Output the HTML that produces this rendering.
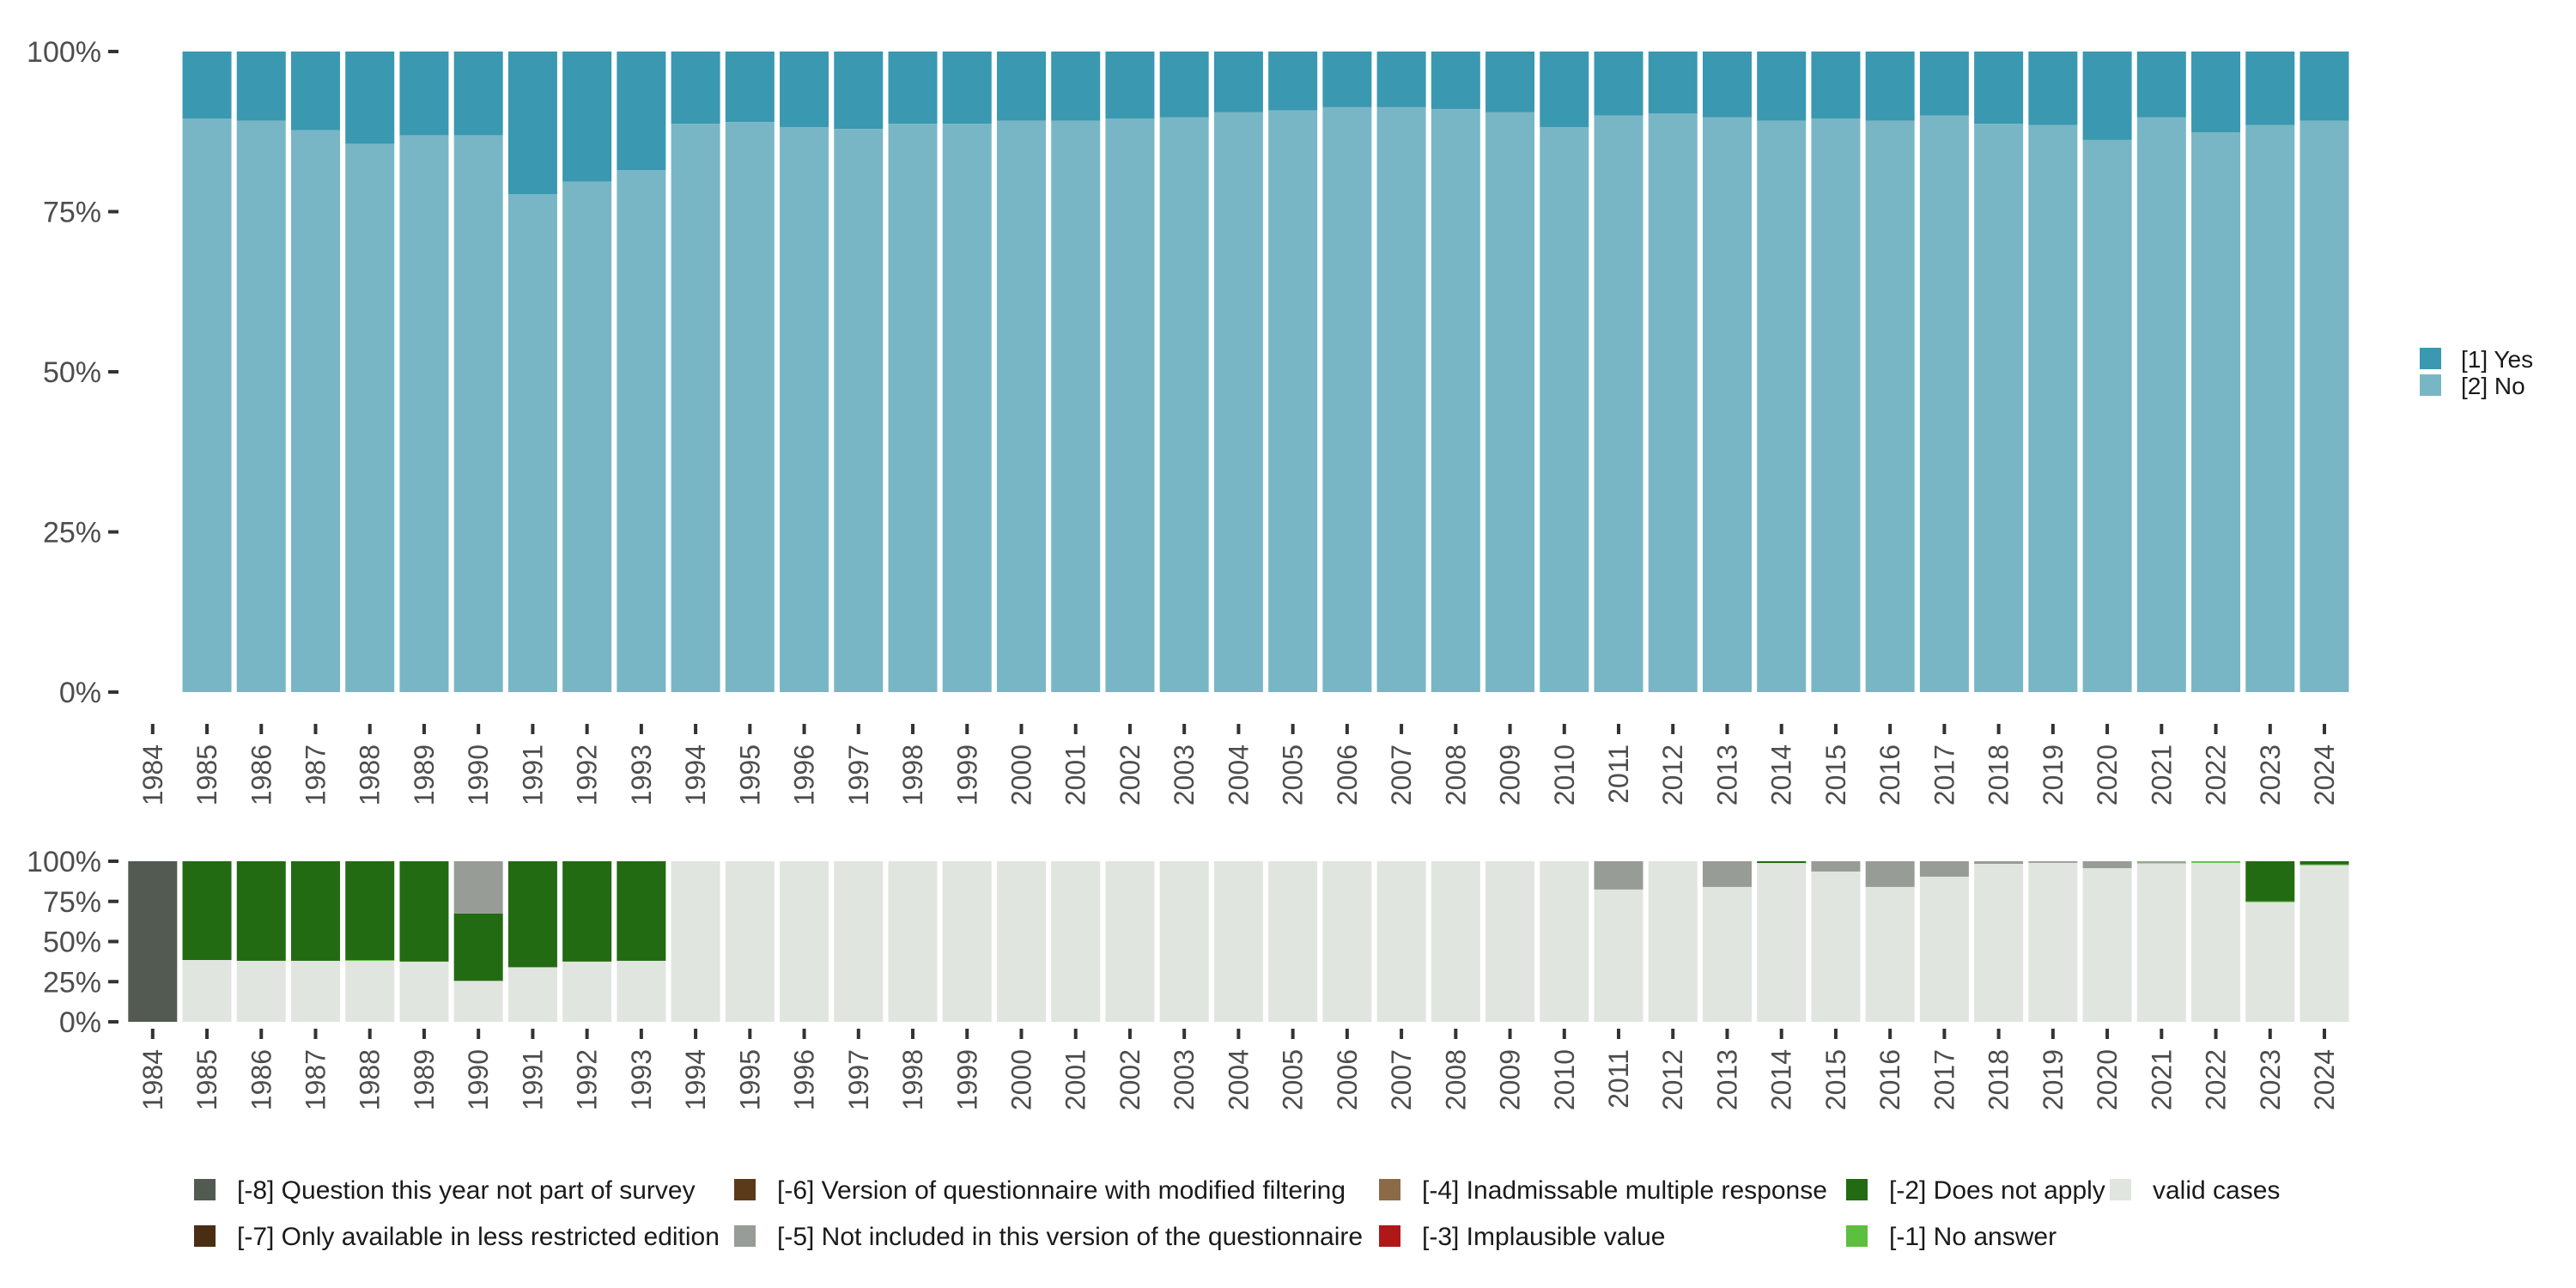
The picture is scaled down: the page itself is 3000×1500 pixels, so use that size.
<!DOCTYPE html>
<html><head><meta charset="utf-8"><style>
body{margin:0;background:#fff;}
svg{display:block;font-family:"Liberation Sans",sans-serif;}
</style></head><body>
<svg id="chart" width="3000" height="1500" viewBox="0 0 3000 1500" xmlns="http://www.w3.org/2000/svg">
<g id="topPanel"></g>
<g id="botPanel"></g>
<g id="legR"></g>
<g id="legB"></g>
</svg>
<script>
const years = [1984,1985,1986,1987,1988,1989,1990,1991,1992,1993,1994,1995,1996,1997,1998,1999,2000,2001,2002,2003,2004,2005,2006,2007,2008,2009,2010,2011,2012,2013,2014,2015,2016,2017,2018,2019,2020,2021,2022,2023,2024];
const topYears = years.slice(1);
const noShare = [0.895,0.892,0.877,0.856,0.869,0.869,0.777,0.797,0.815,0.887,0.89,0.882,0.879,0.887,0.887,0.892,0.892,0.895,0.897,0.905,0.908,0.913,0.913,0.91,0.905,0.882,0.90,0.903,0.897,0.892,0.895,0.892,0.90,0.887,0.885,0.862,0.897,0.874,0.885,0.892];
const validShare = [0,0.385,0.38,0.38,0.38,0.375,0.255,0.34,0.375,0.38,1,1,1,1,1,1,1,1,1,1,1,1,1,1,1,1,1,0.824,1,0.84,0.989,0.936,0.84,0.904,0.984,0.99,0.957,0.987,0.99,0.745,0.975];
const noAnswerShare = [0,0,0,0,0.005,0,0,0,0,0,0,0,0,0,0,0,0,0,0,0,0,0,0,0,0,0,0,0,0,0,0,0,0,0,0,0,0,0.003,0.01,0.005,0.005];
const notApplyShare = [0,0.615,0.62,0.62,0.615,0.625,0.42,0.66,0.625,0.62,0,0,0,0,0,0,0,0,0,0,0,0,0,0,0,0,0,0,0,0,0.011,0,0,0,0,0,0,0,0,0.25,0.02];
const notIncludedShare = [0,0,0,0,0,0,0.325,0,0,0,0,0,0,0,0,0,0,0,0,0,0,0,0,0,0,0,0,0.176,0,0.16,0,0.064,0.16,0.096,0.016,0.01,0.043,0.01,0,0,0];
const notSurveyShare = [1,0,0,0,0,0,0,0,0,0,0,0,0,0,0,0,0,0,0,0,0,0,0,0,0,0,0,0,0,0,0,0,0,0,0,0,0,0,0,0,0];
const yTicks = [0,0.25,0.5,0.75,1];
const yTickLabels = ["0%","25%","50%","75%","100%"];

const NS = "http://www.w3.org/2000/svg";
function mk(parent, tag, attrs){const e=document.createElementNS(NS,tag);for(const k in attrs)e.setAttribute(k,attrs[k]);parent.appendChild(e);return e;}
const xC = y => 177.8 + (y - 1984) * 63.23;
const BW = 57;
const yTop = v => 806 - v * 746;
const yBot = v => 1190 - v * 187;

function axes(g, yf, tickY0, labY, panel){
  yTicks.forEach((t,i)=>{
    const l=mk(g,"line",{x1:126,x2:138,y1:yf(t),y2:yf(t),stroke:"#333","stroke-width":4});
    
    
    const tx=mk(g,"text",{x:118,y:yf(t)+12,"text-anchor":"end","font-size":34,fill:"#4d4d4d"});
    tx.textContent=yTickLabels[i];
    
    
  });
  years.forEach(y=>{
    const l=mk(g,"line",{x1:xC(y),x2:xC(y),y1:tickY0,y2:tickY0+12,stroke:"#333","stroke-width":4});
    
    
    const tx=mk(g,"text",{x:0,y:0,"text-anchor":"end","font-size":32,fill:"#4d4d4d",transform:`translate(${xC(y)+11},${labY}) rotate(-90)`});
    tx.textContent=y;
    
    
  });
}

const topG=document.getElementById("topPanel");
topYears.forEach((y,i)=>{
  const no=noShare[i];
  const r1=mk(topG,"rect",{x:xC(y)-BW/2,y:yTop(1),width:BW,height:yTop(no)-yTop(1),fill:"#3a98b0"});
  
  
  const r2=mk(topG,"rect",{x:xC(y)-BW/2,y:yTop(no),width:BW,height:yTop(0)-yTop(no),fill:"#79b6c5"});
  
  
});
axes(topG,yTop,843,867,"top");

const botG=document.getElementById("botPanel");
const stacks=[[validShare,"#e0e5e0","valid"],[noAnswerShare,"#5cbf40","no-answer"],[notApplyShare,"#226b12","does-not-apply"],[notIncludedShare,"#989c96","not-included"],[notSurveyShare,"#525a52","not-part-of-survey"]];
years.forEach((y,i)=>{
  let cum=0;
  stacks.forEach(([arr,col,nm])=>{
    const v=arr[i]||0; if(v<=0)return;
    const hi=Math.min(1,cum+v);
    const r=mk(botG,"rect",{x:xC(y)-BW/2,y:yBot(hi),width:BW,height:yBot(cum)-yBot(hi),fill:col});
    
    
    cum+=v;
  });
});
axes(botG,yBot,1198,1222,"bottom");

const legR=document.getElementById("legR");
[["[1] Yes","#3a98b0"],["[2] No","#79b6c5"]].forEach(([t,c],i)=>{
  const r=mk(legR,"rect",{x:2818,y:405+i*31,width:25,height:25,fill:c});
  
  
  const tx=mk(legR,"text",{x:2866,y:428+i*31,"font-size":28,fill:"#1a1a1a"});
  tx.textContent=t;
  
  
});

const legB=document.getElementById("legB");
const legItems=[
 ["[-8] Question this year not part of survey","#525a52",226,1373],
 ["[-7] Only available in less restricted edition","#4a2e14",226,1427],
 ["[-6] Version of questionnaire with modified filtering","#5b3a1a",855,1373],
 ["[-5] Not included in this version of the questionnaire","#989c96",855,1427],
 ["[-4] Inadmissable multiple response","#8b6a48",1606,1373],
 ["[-3] Implausible value","#b01818",1606,1427],
 ["[-2] Does not apply","#226b12",2150,1373],
 ["[-1] No answer","#5cbf40",2150,1427],
 ["valid cases","#e0e5e0",2457,1373]];
legItems.forEach(([t,c,x,y])=>{
  const r=mk(legB,"rect",{x:x,y:y,width:25,height:25,fill:c});
  
  
  const tx=mk(legB,"text",{x:x+50,y:y+23,"font-size":30,fill:"#1a1a1a"});
  tx.textContent=t;
  
  
});
</script>
</body></html>
